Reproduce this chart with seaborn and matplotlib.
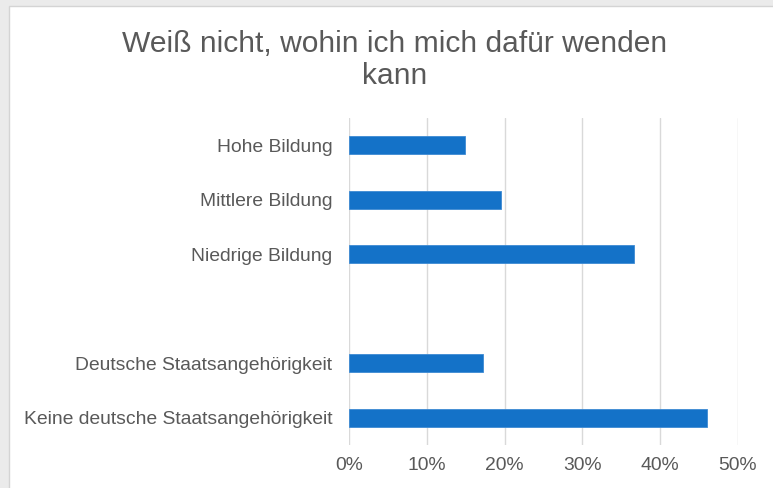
import numpy as np
import pandas as pd
import matplotlib
matplotlib.use("Agg")
import matplotlib.pyplot as plt
import seaborn as sns
from matplotlib.patches import Rectangle
from matplotlib.ticker import PercentFormatter

categories = ["Hohe Bildung", "Mittlere Bildung", "Niedrige Bildung", " ",
              "Deutsche Staatsangehörigkeit", "Keine deutsche Staatsangehörigkeit"]
values = [0.149, 0.195, 0.366, np.nan, 0.172, 0.460]
xticks = [0.0, 0.1, 0.2, 0.3, 0.4, 0.5]

sns.set_theme(style="white")
plt.rcParams['font.family'] = ['Liberation Sans', 'DejaVu Sans']

df = pd.DataFrame({"cat": categories, "val": values})

fig = plt.figure(figsize=(7.73, 4.88), dpi=100)
fig.patch.set_facecolor("#ebebeb")
bg = Rectangle((9/773, -0.01), 1, 1.01 - 6/488, transform=fig.transFigure,
               facecolor="white", edgecolor="#d4d4d4", linewidth=1, zorder=-10)
fig.add_artist(bg)

ax = fig.add_axes([349/773, 1 - 445/488, (738 - 349)/773, (445 - 118)/488])
ax.set_zorder(1)
ax.set_facecolor("none")
sns.barplot(data=df, x="val", y="cat", order=categories, orient="h",
            color="#1472c8", saturation=1, width=0.33, ax=ax,
            edgecolor="#3d8ad3", linewidth=0.6, zorder=3)

ax.set_xlim(0, 0.5)
ax.set_xticks(xticks)
ax.xaxis.set_major_formatter(PercentFormatter(1.0, decimals=0))
ax.grid(axis="x", color="#d9d9d9", linewidth=1, zorder=0)
ax.grid(axis="y", visible=False)
ax.set_axisbelow(True)
for s in ax.spines.values():
    s.set_visible(False)
ax.set_xlabel("")
ax.set_ylabel("")
ax.tick_params(axis="both", length=0, labelsize=13.9, colors="#595959")
ax.tick_params(axis="y", pad=12)
ax.tick_params(axis="x", pad=9)

fig.text(395/773, 1 - 60/488, "Weiß nicht, wohin ich mich dafür wenden\nkann",
         ha="center", va="center", fontsize=21.6, color="#595959", linespacing=1.22)

fig.savefig("out.png", dpi=100, facecolor=fig.get_facecolor())
